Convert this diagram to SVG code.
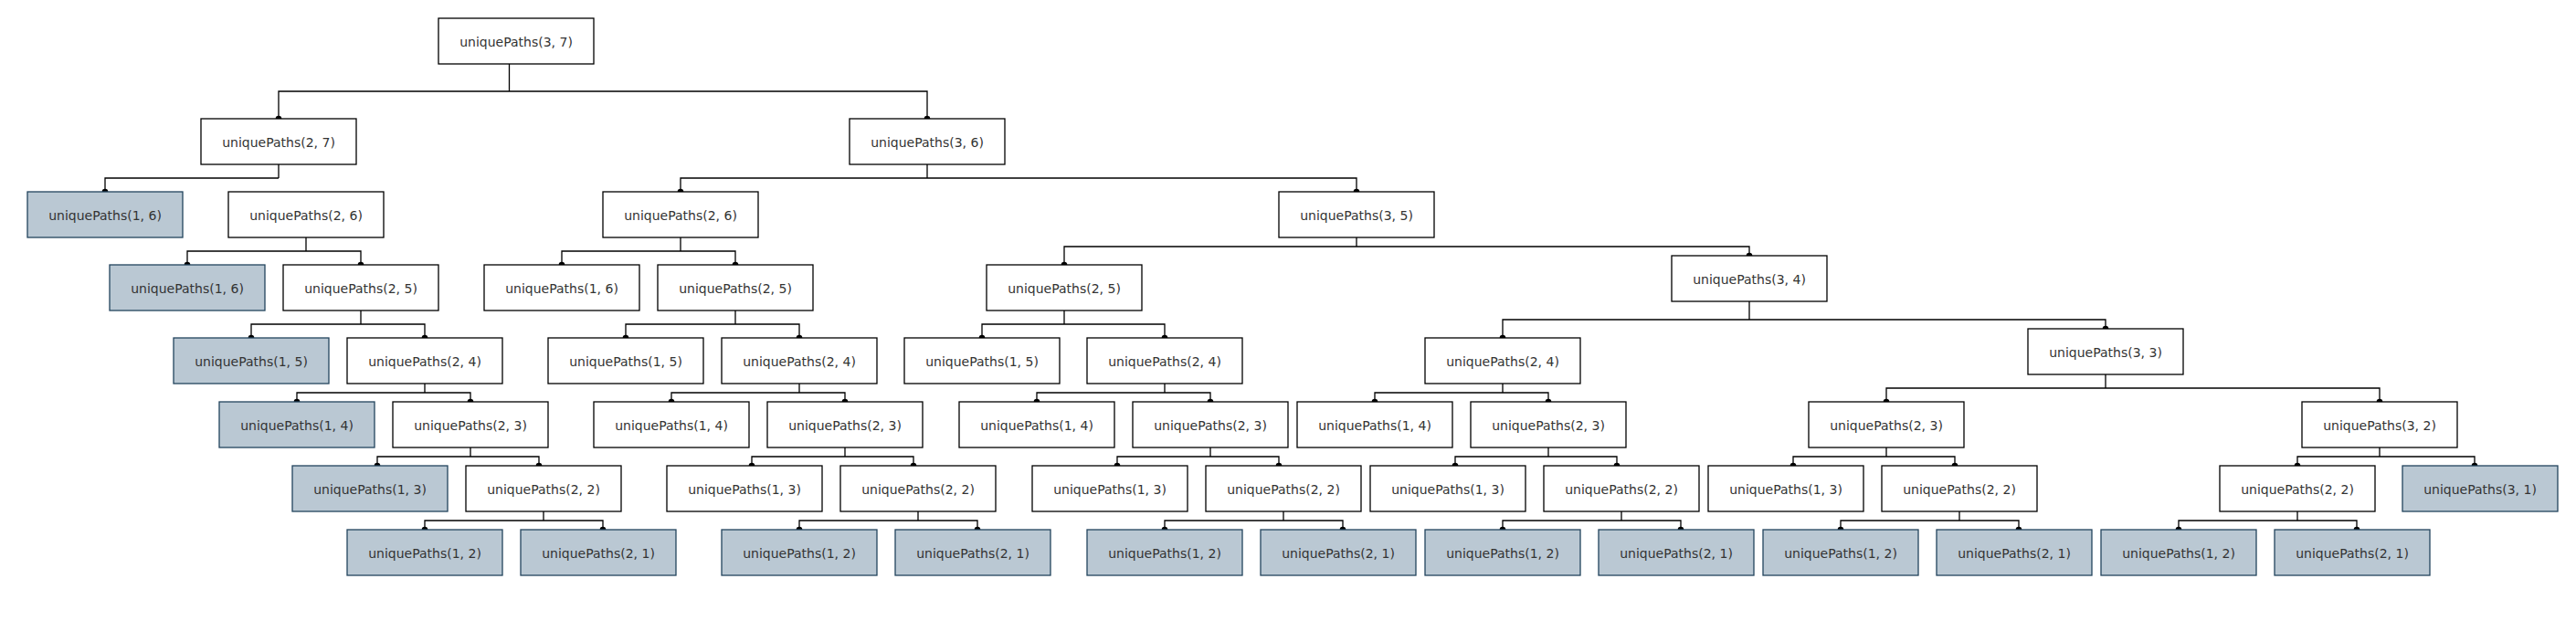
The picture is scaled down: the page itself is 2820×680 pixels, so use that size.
<svg xmlns="http://www.w3.org/2000/svg" width="2820" height="680" viewBox="0 0 2820 680">
<style>
.b rect{fill:#ffffff;stroke:#000000;stroke-width:1.3}
.s rect{fill:#bac8d3;stroke:#23445d;stroke-width:1.3}
text{font-family:"DejaVu Sans","Liberation Sans",sans-serif;font-size:14px;fill:#333333;text-anchor:middle}
#connectors path{fill:none;stroke:#000000;stroke-width:1.3}
#connectors circle{fill:#000000}
</style>
<rect x="0" y="0" width="2820" height="680" fill="#ffffff"/>
<g id="connectors">
<path d="M557.5 70V100M305 130V100H1015V130"/>
<path d="M305 180V195M115 210V195H305"/>
<path d="M1015 180V195M745 210V195H1485V210"/>
<path d="M335 260V275M205 290V275H395V290"/>
<path d="M745 260V275M615 290V275H805V290"/>
<path d="M1485 260V270M1165 290V270H1915V280"/>
<path d="M395 340V355M275 370V355H465V370"/>
<path d="M805 340V355M685 370V355H875V370"/>
<path d="M1165 340V355M1075 370V355H1275V370"/>
<path d="M1915 330V350M1645 370V350H2305V360"/>
<path d="M465 420V430M325 440V430H515V440"/>
<path d="M875 420V430M735 440V430H925V440"/>
<path d="M1275 420V430M1135 440V430H1325V440"/>
<path d="M1645 420V430M1505 440V430H1695V440"/>
<path d="M2305 410V425M2065 440V425H2605V440"/>
<path d="M515 490V500M413 510V500H590V510"/>
<path d="M925 490V500M823 510V500H1000V510"/>
<path d="M1325 490V500M1223 510V500H1400V510"/>
<path d="M1695 490V500M1593 510V500H1770V510"/>
<path d="M2065 490V500M1963 510V500H2140V510"/>
<path d="M2605 490V500M2515 510V500H2709V510"/>
<path d="M595 560V570M465 580V570H660V580"/>
<path d="M1005 560V570M875 580V570H1070V580"/>
<path d="M1405 560V570M1275 580V570H1470V580"/>
<path d="M1775 560V570M1645 580V570H1840V580"/>
<path d="M2145 560V570M2015 580V570H2210V580"/>
<path d="M2515 560V570M2385 580V570H2580V580"/>
<circle cx="305" cy="130" r="3.3"/><circle cx="1015" cy="130" r="3.3"/>
<circle cx="115" cy="210" r="3.3"/>
<circle cx="745" cy="210" r="3.3"/><circle cx="1485" cy="210" r="3.3"/>
<circle cx="205" cy="290" r="3.3"/><circle cx="395" cy="290" r="3.3"/>
<circle cx="615" cy="290" r="3.3"/><circle cx="805" cy="290" r="3.3"/>
<circle cx="1165" cy="290" r="3.3"/><circle cx="1915" cy="280" r="3.3"/>
<circle cx="275" cy="370" r="3.3"/><circle cx="465" cy="370" r="3.3"/>
<circle cx="685" cy="370" r="3.3"/><circle cx="875" cy="370" r="3.3"/>
<circle cx="1075" cy="370" r="3.3"/><circle cx="1275" cy="370" r="3.3"/>
<circle cx="1645" cy="370" r="3.3"/><circle cx="2305" cy="360" r="3.3"/>
<circle cx="325" cy="440" r="3.3"/><circle cx="515" cy="440" r="3.3"/>
<circle cx="735" cy="440" r="3.3"/><circle cx="925" cy="440" r="3.3"/>
<circle cx="1135" cy="440" r="3.3"/><circle cx="1325" cy="440" r="3.3"/>
<circle cx="1505" cy="440" r="3.3"/><circle cx="1695" cy="440" r="3.3"/>
<circle cx="2065" cy="440" r="3.3"/><circle cx="2605" cy="440" r="3.3"/>
<circle cx="413" cy="510" r="3.3"/><circle cx="590" cy="510" r="3.3"/>
<circle cx="823" cy="510" r="3.3"/><circle cx="1000" cy="510" r="3.3"/>
<circle cx="1223" cy="510" r="3.3"/><circle cx="1400" cy="510" r="3.3"/>
<circle cx="1593" cy="510" r="3.3"/><circle cx="1770" cy="510" r="3.3"/>
<circle cx="1963" cy="510" r="3.3"/><circle cx="2140" cy="510" r="3.3"/>
<circle cx="2515" cy="510" r="3.3"/><circle cx="2709" cy="510" r="3.3"/>
<circle cx="465" cy="580" r="3.3"/><circle cx="660" cy="580" r="3.3"/>
<circle cx="875" cy="580" r="3.3"/><circle cx="1070" cy="580" r="3.3"/>
<circle cx="1275" cy="580" r="3.3"/><circle cx="1470" cy="580" r="3.3"/>
<circle cx="1645" cy="580" r="3.3"/><circle cx="1840" cy="580" r="3.3"/>
<circle cx="2015" cy="580" r="3.3"/><circle cx="2210" cy="580" r="3.3"/>
<circle cx="2385" cy="580" r="3.3"/><circle cx="2580" cy="580" r="3.3"/>
</g>
<g id="n0" class="b"><rect x="480" y="20" width="170" height="50"/><text x="565" y="51">uniquePaths(3, 7)</text></g>
<g id="n1" class="b"><rect x="220" y="130" width="170" height="50"/><text x="305" y="161">uniquePaths(2, 7)</text></g>
<g id="n2" class="b"><rect x="930" y="130" width="170" height="50"/><text x="1015" y="161">uniquePaths(3, 6)</text></g>
<g id="n3" class="s"><rect x="30" y="210" width="170" height="50"/><text x="115" y="241">uniquePaths(1, 6)</text></g>
<g id="n4" class="b"><rect x="250" y="210" width="170" height="50"/><text x="335" y="241">uniquePaths(2, 6)</text></g>
<g id="n5" class="b"><rect x="660" y="210" width="170" height="50"/><text x="745" y="241">uniquePaths(2, 6)</text></g>
<g id="n6" class="b"><rect x="1400" y="210" width="170" height="50"/><text x="1485" y="241">uniquePaths(3, 5)</text></g>
<g id="n7" class="s"><rect x="120" y="290" width="170" height="50"/><text x="205" y="321">uniquePaths(1, 6)</text></g>
<g id="n8" class="b"><rect x="310" y="290" width="170" height="50"/><text x="395" y="321">uniquePaths(2, 5)</text></g>
<g id="n9" class="b"><rect x="530" y="290" width="170" height="50"/><text x="615" y="321">uniquePaths(1, 6)</text></g>
<g id="n10" class="b"><rect x="720" y="290" width="170" height="50"/><text x="805" y="321">uniquePaths(2, 5)</text></g>
<g id="n11" class="b"><rect x="1080" y="290" width="170" height="50"/><text x="1165" y="321">uniquePaths(2, 5)</text></g>
<g id="n12" class="b"><rect x="1830" y="280" width="170" height="50"/><text x="1915" y="311">uniquePaths(3, 4)</text></g>
<g id="n13" class="s"><rect x="190" y="370" width="170" height="50"/><text x="275" y="401">uniquePaths(1, 5)</text></g>
<g id="n14" class="b"><rect x="380" y="370" width="170" height="50"/><text x="465" y="401">uniquePaths(2, 4)</text></g>
<g id="n15" class="b"><rect x="600" y="370" width="170" height="50"/><text x="685" y="401">uniquePaths(1, 5)</text></g>
<g id="n16" class="b"><rect x="790" y="370" width="170" height="50"/><text x="875" y="401">uniquePaths(2, 4)</text></g>
<g id="n17" class="b"><rect x="990" y="370" width="170" height="50"/><text x="1075" y="401">uniquePaths(1, 5)</text></g>
<g id="n18" class="b"><rect x="1190" y="370" width="170" height="50"/><text x="1275" y="401">uniquePaths(2, 4)</text></g>
<g id="n19" class="b"><rect x="1560" y="370" width="170" height="50"/><text x="1645" y="401">uniquePaths(2, 4)</text></g>
<g id="n20" class="b"><rect x="2220" y="360" width="170" height="50"/><text x="2305" y="391">uniquePaths(3, 3)</text></g>
<g id="n21" class="s"><rect x="240" y="440" width="170" height="50"/><text x="325" y="471">uniquePaths(1, 4)</text></g>
<g id="n22" class="b"><rect x="430" y="440" width="170" height="50"/><text x="515" y="471">uniquePaths(2, 3)</text></g>
<g id="n23" class="b"><rect x="650" y="440" width="170" height="50"/><text x="735" y="471">uniquePaths(1, 4)</text></g>
<g id="n24" class="b"><rect x="840" y="440" width="170" height="50"/><text x="925" y="471">uniquePaths(2, 3)</text></g>
<g id="n25" class="b"><rect x="1050" y="440" width="170" height="50"/><text x="1135" y="471">uniquePaths(1, 4)</text></g>
<g id="n26" class="b"><rect x="1240" y="440" width="170" height="50"/><text x="1325" y="471">uniquePaths(2, 3)</text></g>
<g id="n27" class="b"><rect x="1420" y="440" width="170" height="50"/><text x="1505" y="471">uniquePaths(1, 4)</text></g>
<g id="n28" class="b"><rect x="1610" y="440" width="170" height="50"/><text x="1695" y="471">uniquePaths(2, 3)</text></g>
<g id="n29" class="b"><rect x="1980" y="440" width="170" height="50"/><text x="2065" y="471">uniquePaths(2, 3)</text></g>
<g id="n30" class="b"><rect x="2520" y="440" width="170" height="50"/><text x="2605" y="471">uniquePaths(3, 2)</text></g>
<g id="n31" class="s"><rect x="320" y="510" width="170" height="50"/><text x="405" y="541">uniquePaths(1, 3)</text></g>
<g id="n32" class="b"><rect x="510" y="510" width="170" height="50"/><text x="595" y="541">uniquePaths(2, 2)</text></g>
<g id="n33" class="b"><rect x="730" y="510" width="170" height="50"/><text x="815" y="541">uniquePaths(1, 3)</text></g>
<g id="n34" class="b"><rect x="920" y="510" width="170" height="50"/><text x="1005" y="541">uniquePaths(2, 2)</text></g>
<g id="n35" class="b"><rect x="1130" y="510" width="170" height="50"/><text x="1215" y="541">uniquePaths(1, 3)</text></g>
<g id="n36" class="b"><rect x="1320" y="510" width="170" height="50"/><text x="1405" y="541">uniquePaths(2, 2)</text></g>
<g id="n37" class="b"><rect x="1500" y="510" width="170" height="50"/><text x="1585" y="541">uniquePaths(1, 3)</text></g>
<g id="n38" class="b"><rect x="1690" y="510" width="170" height="50"/><text x="1775" y="541">uniquePaths(2, 2)</text></g>
<g id="n39" class="b"><rect x="1870" y="510" width="170" height="50"/><text x="1955" y="541">uniquePaths(1, 3)</text></g>
<g id="n40" class="b"><rect x="2060" y="510" width="170" height="50"/><text x="2145" y="541">uniquePaths(2, 2)</text></g>
<g id="n41" class="b"><rect x="2430" y="510" width="170" height="50"/><text x="2515" y="541">uniquePaths(2, 2)</text></g>
<g id="n42" class="s"><rect x="2630" y="510" width="170" height="50"/><text x="2715" y="541">uniquePaths(3, 1)</text></g>
<g id="n43" class="s"><rect x="380" y="580" width="170" height="50"/><text x="465" y="611">uniquePaths(1, 2)</text></g>
<g id="n44" class="s"><rect x="570" y="580" width="170" height="50"/><text x="655" y="611">uniquePaths(2, 1)</text></g>
<g id="n45" class="s"><rect x="790" y="580" width="170" height="50"/><text x="875" y="611">uniquePaths(1, 2)</text></g>
<g id="n46" class="s"><rect x="980" y="580" width="170" height="50"/><text x="1065" y="611">uniquePaths(2, 1)</text></g>
<g id="n47" class="s"><rect x="1190" y="580" width="170" height="50"/><text x="1275" y="611">uniquePaths(1, 2)</text></g>
<g id="n48" class="s"><rect x="1380" y="580" width="170" height="50"/><text x="1465" y="611">uniquePaths(2, 1)</text></g>
<g id="n49" class="s"><rect x="1560" y="580" width="170" height="50"/><text x="1645" y="611">uniquePaths(1, 2)</text></g>
<g id="n50" class="s"><rect x="1750" y="580" width="170" height="50"/><text x="1835" y="611">uniquePaths(2, 1)</text></g>
<g id="n51" class="s"><rect x="1930" y="580" width="170" height="50"/><text x="2015" y="611">uniquePaths(1, 2)</text></g>
<g id="n52" class="s"><rect x="2120" y="580" width="170" height="50"/><text x="2205" y="611">uniquePaths(2, 1)</text></g>
<g id="n53" class="s"><rect x="2300" y="580" width="170" height="50"/><text x="2385" y="611">uniquePaths(1, 2)</text></g>
<g id="n54" class="s"><rect x="2490" y="580" width="170" height="50"/><text x="2575" y="611">uniquePaths(2, 1)</text></g>
</svg>
